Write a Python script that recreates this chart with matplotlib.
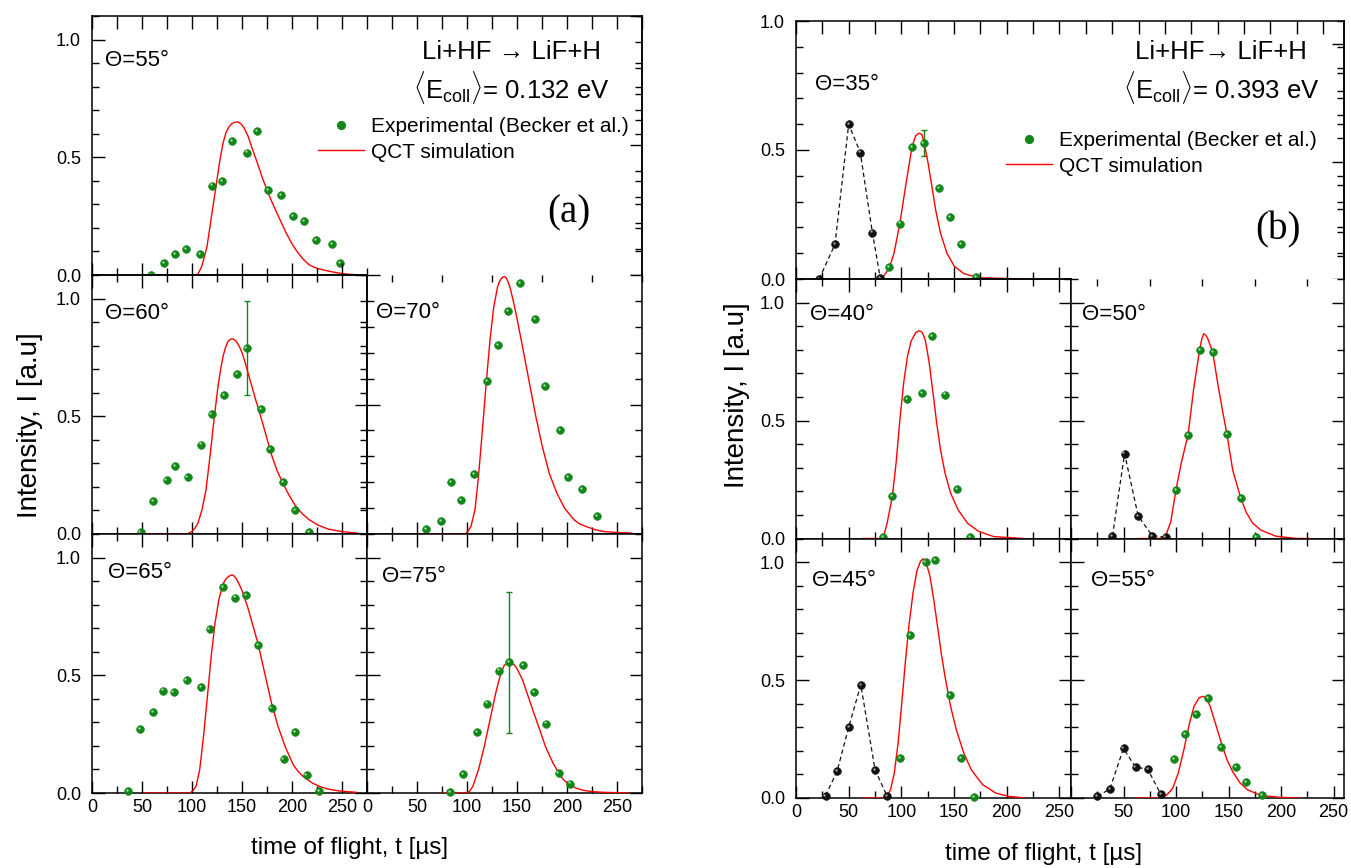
"""Li+HF -> LiF+H time-of-flight spectra, experiment vs QCT, two collision energies."""
import numpy as np
import matplotlib
matplotlib.use("Agg")
import matplotlib.pyplot as plt
from matplotlib.ticker import MultipleLocator, FormatStrFormatter, NullFormatter, FuncFormatter
from matplotlib.lines import Line2D
from matplotlib.transforms import offset_copy

plt.rcParams["font.family"] = ["Liberation Sans", "DejaVu Sans"]
plt.rcParams["mathtext.fontset"] = "custom"
plt.rcParams["mathtext.rm"] = "Liberation Sans"
plt.rcParams["mathtext.it"] = "Liberation Sans:italic"
plt.rcParams["axes.linewidth"] = 1.1

GREEN, GREEN_HI = "#13861a", "#9be09b"
BLACK, BLACK_HI = "#111111", "#a0a0a0"

# ---------------- (a) <Ecoll> = 0.132 eV ----------------
a55_t = [59, 72, 83, 94, 108, 120, 130, 140, 155, 165, 176, 189, 201, 212, 224, 240, 248]
a55_I = [0.00, 0.05, 0.09, 0.11, 0.09, 0.38, 0.40, 0.57, 0.52, 0.61, 0.36, 0.34, 0.25, 0.23, 0.15, 0.13, 0.05]
a55_sim_t = [62, 104, 106, 110, 115, 119, 122, 125, 128, 131, 134, 137, 140, 143, 146, 149, 152, 156, 160,
             165, 171, 177, 182, 188, 194, 200, 205, 211, 217, 222, 228, 236, 243, 252, 264]
a55_sim_I = [0, 0, 0.004, 0.04, 0.12, 0.235, 0.32, 0.405, 0.49, 0.56, 0.605, 0.63, 0.643, 0.649, 0.65, 0.642,
             0.625, 0.59, 0.54, 0.48, 0.405, 0.34, 0.29, 0.235, 0.18, 0.132, 0.10, 0.068, 0.044, 0.033, 0.025,
             0.017, 0.011, 0.005, 0.001]

a60_t = [48.5, 61, 74.5, 83, 95.5, 109, 119.5, 132, 145, 154.5, 169, 178, 191, 203, 217]
a60_I = [0.01, 0.14, 0.23, 0.29, 0.24, 0.38, 0.51, 0.59, 0.68, 0.79, 0.53, 0.36, 0.22, 0.10, 0.01]
a60_err_t, a60_err_I, a60_err = [154.5], [0.79], [0.20]
a60_sim_t = [55, 95, 100, 103, 106, 110, 114, 118, 122, 126, 128.5, 131, 133.5, 136, 138.5, 141, 144, 147,
             150, 153, 156, 160, 164, 168, 172, 176, 180, 185, 191, 197, 203, 210, 217, 226, 236, 250, 265]
a60_sim_I = [0, 0, 0.011, 0.025, 0.047, 0.103, 0.188, 0.33, 0.485, 0.627, 0.695, 0.754, 0.792, 0.818, 0.827,
             0.829, 0.82, 0.80, 0.77, 0.73, 0.685, 0.625, 0.565, 0.51, 0.45, 0.39, 0.33, 0.27, 0.215, 0.165,
             0.122, 0.087, 0.061, 0.038, 0.021, 0.01, 0.004]

a70_t = [59, 74, 84, 94, 107, 120, 131, 141, 153, 168, 178, 193, 201, 215, 230]
a70_I = [0.02, 0.05, 0.20, 0.13, 0.23, 0.59, 0.73, 0.86, 0.97, 0.83, 0.57, 0.40, 0.22, 0.175, 0.07]
a70_sim_t = [55, 98, 101, 104, 108, 111.5, 115.4, 119.2, 123, 126.8, 130.6, 132.5, 134.5, 136, 137.5, 139, 141,
             143.5, 146, 148.8, 151.6, 157.4, 163.1, 168.8, 175.3, 182.2, 189.8, 197.5, 207, 213, 220.4, 228,
             235.7, 248, 264]
a70_sim_I = [0, 0, 0.01, 0.03, 0.094, 0.222, 0.402, 0.582, 0.749, 0.878, 0.955, 0.975, 0.987, 0.992, 0.994,
             0.99, 0.974, 0.945, 0.904, 0.855, 0.801, 0.685, 0.569, 0.454, 0.338, 0.235, 0.158, 0.10, 0.055,
             0.038, 0.027, 0.017, 0.01, 0.006, 0.004]

a65_t = [36, 48, 61, 71, 81.5, 94.5, 109, 117.5, 131, 143, 154, 166, 179.5, 191.5, 203, 214.5, 227]
a65_I = [0.01, 0.27, 0.345, 0.435, 0.43, 0.48, 0.45, 0.695, 0.875, 0.83, 0.84, 0.63, 0.36, 0.145, 0.26, 0.075, 0.01]
a65_sim_t = [52, 98, 101, 104, 107.7, 111.5, 115.4, 119.2, 123, 126.8, 130.6, 133.5, 136.4, 138.3, 140.2, 142,
             144, 146.8, 149.7, 155.5, 161.2, 166.2, 172.7, 179.5, 186, 193.7, 201.3, 206, 210.9, 220.4, 228,
             235.7, 248, 264]
a65_sim_I = [0, 0, 0.01, 0.028, 0.099, 0.24, 0.41, 0.58, 0.721, 0.82, 0.884, 0.907, 0.919, 0.924, 0.926, 0.922,
             0.912, 0.89, 0.863, 0.792, 0.707, 0.631, 0.509, 0.382, 0.283, 0.191, 0.12, 0.092, 0.071, 0.042,
             0.027, 0.017, 0.008, 0.003]

a75_t = [83, 96, 110, 120, 132, 142, 156, 167, 179, 191.5, 203]
a75_I = [0.005, 0.08, 0.26, 0.38, 0.52, 0.555, 0.545, 0.43, 0.295, 0.085, 0.04]
a75_err_t, a75_err_I, a75_err = [142], [0.555], [0.30]
a75_sim_t = [75, 100, 103, 105.8, 111.5, 117.3, 123, 128.7, 131.5, 134.5, 137.3, 140.2, 142, 144, 147, 149.7,
             155.5, 161.2, 166.9, 172.7, 178.4, 186, 193.7, 198, 203.2, 209, 216.6, 225, 235.7, 262]
a75_sim_I = [0, 0, 0.01, 0.028, 0.099, 0.198, 0.311, 0.424, 0.472, 0.516, 0.542, 0.552, 0.555, 0.554, 0.545,
             0.53, 0.481, 0.41, 0.339, 0.269, 0.198, 0.127, 0.071, 0.05, 0.035, 0.021, 0.011, 0.006, 0.003, 0]

# ---------------- (b) <Ecoll> = 0.393 eV ----------------
b35_fast_t = [22, 37, 50, 61, 72.5, 80]
b35_fast_I = [0, 0.135, 0.60, 0.49, 0.18, 0.003]
b35_t = [88.5, 98.5, 110, 121, 136, 146, 157, 171]
b35_I = [0.045, 0.215, 0.51, 0.527, 0.352, 0.24, 0.137, 0.008]
b35_err_t, b35_err_I, b35_err = [121], [0.527], [0.05]
b35_sim_t = [63, 80, 84.4, 88.7, 93, 98.6, 104, 110, 113.5, 116.5, 119.5, 122, 125.4, 129, 132.5, 137.1,
             143.2, 150.3, 159.2, 173.4, 216]
b35_sim_I = [0, 0, 0.017, 0.045, 0.10, 0.216, 0.36, 0.51, 0.555, 0.565, 0.56, 0.52, 0.448, 0.358, 0.268, 0.178,
             0.10, 0.049, 0.021, 0.005, 0]

b40_t = [83, 91.5, 105, 119.5, 129, 141.5, 153, 165]
b40_I = [0.008, 0.18, 0.59, 0.615, 0.86, 0.61, 0.21, 0.008]
b40_sim_t = [63, 80, 83, 86.5, 91.5, 95, 98.6, 102.2, 105.8, 109.3, 113.6, 116.5, 119, 121, 122.9, 126.4, 130,
             133.5, 137.1, 141.4, 146.7, 153.8, 162.7, 173.4, 187.7, 216]
b40_sim_I = [0, 0, 0.008, 0.065, 0.181, 0.32, 0.504, 0.66, 0.773, 0.837, 0.873, 0.88, 0.877, 0.862, 0.837,
             0.745, 0.618, 0.49, 0.377, 0.278, 0.193, 0.122, 0.065, 0.03, 0.008, 0]

b50_fast_t = [39.5, 51, 64, 77.5, 90]
b50_fast_I = [0.01, 0.36, 0.095, 0.011, 0.007]
b50_t = [100, 111.5, 122.5, 135, 148.5, 161.7, 176]
b50_I = [0.207, 0.44, 0.80, 0.79, 0.442, 0.171, 0.008]
b50_sim_t = [65, 84, 90, 95, 100, 105, 111.5, 117, 122.5, 124.5, 126.4, 128.3, 130, 135, 140, 144, 148.5, 154,
             161.7, 167, 173, 181, 195, 215, 227]
b50_sim_I = [0, 0, 0.01, 0.07, 0.207, 0.32, 0.44, 0.64, 0.80, 0.845, 0.868, 0.862, 0.85, 0.79, 0.65, 0.55, 0.442,
             0.29, 0.171, 0.11, 0.065, 0.035, 0.01, 0, 0]

b45_fast_t = [28, 39, 50, 61.5, 75, 86.5]
b45_fast_I = [0.01, 0.113, 0.30, 0.48, 0.12, 0.007]
b45_t = [99, 108, 123, 132, 146.5, 157, 169]
b45_I = [0.17, 0.69, 1.00, 1.01, 0.435, 0.168, 0.003]
b45_sim_t = [63, 85.5, 89.7, 93.3, 96.9, 100.4, 104, 107.5, 111.1, 114.7, 118.2, 120.7, 123.6, 127.1, 130.7,
             134.3, 137.8, 141.4, 146.7, 152.1, 159.2, 166.3, 177, 189.5, 201.9, 218]
b45_sim_I = [0, 0, 0.035, 0.106, 0.233, 0.403, 0.587, 0.743, 0.87, 0.962, 1.004, 1.014, 0.997, 0.941, 0.842,
             0.728, 0.615, 0.516, 0.389, 0.29, 0.191, 0.12, 0.057, 0.021, 0.007, 0]

b55_fast_t = [25, 37, 50, 61.5, 73, 85.5]
b55_fast_I = [0.007, 0.038, 0.21, 0.13, 0.123, 0.016]
b55_t = [98.5, 108.5, 119.5, 130.5, 143, 157, 166.5, 182]
b55_I = [0.165, 0.272, 0.356, 0.424, 0.216, 0.132, 0.069, 0.011]
b55_sim_t = [63, 86.2, 91.5, 96.9, 102.2, 107.5, 112.9, 117.2, 121.8, 125.4, 129, 132.5, 137.9, 143.2, 148.5,
             153.8, 161, 168.1, 180.6, 198.4, 218]
b55_sim_I = [0, 0, 0.014, 0.042, 0.106, 0.205, 0.318, 0.389, 0.424, 0.431, 0.424, 0.389, 0.311, 0.233, 0.163,
             0.113, 0.064, 0.035, 0.011, 0.003, 0]

W, H = 1351, 868
fig = plt.figure(figsize=(W / 100, H / 100), dpi=100)


def box(x0, y0, x1, y1):
    # pixel box (top-left origin) -> figure fraction rect
    return [x0 / W, 1 - y1 / H, (x1 - x0) / W, (y1 - y0) / H]


def frame(ax, xmax, ymax, xlab=False, ylab=False):
    ax.set_xlim(0, xmax)
    ax.set_ylim(0, ymax)
    ax.xaxis.set_major_locator(MultipleLocator(50))
    ax.xaxis.set_minor_locator(MultipleLocator(25))
    ax.yaxis.set_major_locator(MultipleLocator(0.5))
    ax.yaxis.set_minor_locator(MultipleLocator(0.1))
    ax.yaxis.set_major_formatter(FormatStrFormatter("%.1f"))
    ax.tick_params(which="both", direction="in", top=True, right=True, width=1.0, labelsize=13, pad=4)
    ax.tick_params(which="major", length=9)
    ax.tick_params(which="minor", length=5)
    ax.tick_params(axis="y", pad=8)
    ax.tick_params(labelbottom=xlab, labelleft=ylab)


def seam_top(ax):
    # ticks of the panel above poke down onto this frame edge
    sec = ax.secondary_xaxis("top")
    sec.xaxis.set_major_locator(MultipleLocator(50))
    sec.xaxis.set_minor_locator(MultipleLocator(25))
    sec.xaxis.set_major_formatter(NullFormatter())
    sec.tick_params(which="both", direction="out", width=1.0)
    sec.tick_params(which="major", length=9)
    sec.tick_params(which="minor", length=5)


def right_scale(ax, k):
    sec = ax.secondary_yaxis("right", functions=(lambda y: y * k, lambda r: r / k))
    sec.yaxis.set_major_locator(MultipleLocator(0.5))
    sec.yaxis.set_minor_locator(MultipleLocator(0.1))
    sec.yaxis.set_major_formatter(NullFormatter())
    sec.tick_params(which="both", direction="in", width=1.0)
    sec.tick_params(which="major", length=9)
    sec.tick_params(which="minor", length=5)
    return sec


def left_out(ax):
    sec = ax.secondary_yaxis("left")
    sec.yaxis.set_major_locator(MultipleLocator(0.5))
    sec.yaxis.set_minor_locator(MultipleLocator(0.1))
    sec.yaxis.set_major_formatter(NullFormatter())
    sec.tick_params(which="both", direction="out", width=1.0)
    sec.tick_params(which="major", length=9)
    sec.tick_params(which="minor", length=5)


def balls(ax, t, I, color, hi):
    ax.plot(t, I, "o", ms=5.6, color=color, mec=color, mew=0.4, zorder=4, clip_on=False)
    tr = offset_copy(ax.transData, fig=fig, x=-0.8, y=0.8, units="points")
    ax.plot(t, I, "o", ms=1.7, color=hi, mec="none", transform=tr, zorder=5, clip_on=False)


def sim(ax, t, I):
    ax.plot(t, I, "-", color="red", lw=1.0, zorder=3)


def fast(ax, t, I):
    ax.plot(t, I, "--", color=BLACK, lw=0.9, dashes=(3.5, 2.5), zorder=3)
    balls(ax, t, I, BLACK, BLACK_HI)


def errs(ax, t, I, e):
    ax.errorbar(t, I, yerr=e, fmt="none", ecolor=GREEN, elinewidth=1.0, capsize=2.2, capthick=1.0, zorder=3)


def top_panel(rect, xmax, ymax, k):
    ax = fig.add_axes(rect)
    frame(ax, xmax, ymax, ylab=True)
    ax.xaxis.set_major_locator(MultipleLocator(25))
    ax.xaxis.set_minor_locator(MultipleLocator(25))
    ax.tick_params(bottom=False, right=False)
    ax.spines["bottom"].set_visible(False)
    right_scale(ax, k)
    return ax


def theta(ax_x, ax_y, s):
    fig.text(ax_x / W, 1 - ax_y / H, s, fontsize=16, ha="left", va="center")


# ---------------- panel (a) ----------------
ax = top_panel(box(92, 16, 642, 275), 550, 1.1, 1 / 1.1)
balls(ax, a55_t, a55_I, GREEN, GREEN_HI)
sim(ax, a55_sim_t, a55_sim_I)
theta(105, 60, "Θ=55°")

ax = fig.add_axes(box(92, 275, 367, 534))
frame(ax, 275, 1.1, ylab=True)
ax.tick_params(right=False)
seam_top(ax)
errs(ax, a60_err_t, a60_err_I, a60_err)
balls(ax, a60_t, a60_I, GREEN, GREEN_HI)
sim(ax, a60_sim_t, a60_sim_I)
theta(105, 314, "Θ=60°")

ax = fig.add_axes(box(367, 275, 642, 534))
frame(ax, 275, 1.0)
ax.tick_params(top=False)
ax.spines["top"].set_visible(False)
left_out(ax)
balls(ax, a70_t, a70_I, GREEN, GREEN_HI)
sim(ax, a70_sim_t, a70_sim_I)
theta(376, 313, "Θ=70°")

ax = fig.add_axes(box(92, 534, 367, 793))
frame(ax, 275, 1.1, xlab=True, ylab=True)
balls(ax, a65_t, a65_I, GREEN, GREEN_HI)
sim(ax, a65_sim_t, a65_sim_I)
theta(108, 572, "Θ=65°")

ax = fig.add_axes(box(367, 534, 642, 793))
frame(ax, 275, 1.1, xlab=True)
errs(ax, a75_err_t, a75_err_I, a75_err)
balls(ax, a75_t, a75_I, GREEN, GREEN_HI)
sim(ax, a75_sim_t, a75_sim_I)
theta(382, 577, "Θ=75°")

# ---------------- panel (b) ----------------
ax = top_panel(box(796, 21, 1344, 279), 520, 1.0, 1.1)
fast(ax, b35_fast_t, b35_fast_I)
errs(ax, b35_err_t, b35_err_I, b35_err)
balls(ax, b35_t, b35_I, GREEN, GREEN_HI)
sim(ax, b35_sim_t, b35_sim_I)
theta(815, 85, "Θ=35°")

ax = fig.add_axes(box(796, 279, 1071, 538.5))
frame(ax, 261, 1.1, ylab=True)
seam_top(ax)
balls(ax, b40_t, b40_I, GREEN, GREEN_HI)
sim(ax, b40_sim_t, b40_sim_I)
theta(810, 315, "Θ=40°")

ax = fig.add_axes(box(1071, 279, 1344, 538.5))
frame(ax, 260, 1.1)
ax.tick_params(top=False)
ax.spines["top"].set_visible(False)
fast(ax, b50_fast_t, b50_fast_I)
balls(ax, b50_t, b50_I, GREEN, GREEN_HI)
sim(ax, b50_sim_t, b50_sim_I)
theta(1082, 315, "Θ=50°")

ax = fig.add_axes(box(796, 538.5, 1071, 798))
frame(ax, 261, 1.1, xlab=True, ylab=True)
fast(ax, b45_fast_t, b45_fast_I)
balls(ax, b45_t, b45_I, GREEN, GREEN_HI)
sim(ax, b45_sim_t, b45_sim_I)
theta(812, 580, "Θ=45°")

ax = fig.add_axes(box(1071, 538.5, 1344, 798))
frame(ax, 260, 1.1, xlab=True)
# the left neighbour's "250" already sits on the shared edge
ax.xaxis.set_major_formatter(FuncFormatter(lambda v, p: "" if v == 0 else f"{v:.0f}"))
fast(ax, b55_fast_t, b55_fast_I)
balls(ax, b55_t, b55_I, GREEN, GREEN_HI)
sim(ax, b55_sim_t, b55_sim_I)
theta(1091, 580, "Θ=55°")

# ---------------- annotations ----------------
for cx, arrow, energy in [(511, "Li+HF → LiF+H", "0.132"), (1221, "Li+HF→ LiF+H", "0.393")]:
    fig.text(cx / W, 1 - 52 / H, arrow, fontsize=18.5, ha="center", va="center")
    fig.text(cx / W, 1 - 88 / H, r"$\langle$E$_{\rm coll}$$\rangle$= " + energy + " eV",
             fontsize=18.5, ha="center", va="center")

fig.text(569 / W, 1 - 213 / H, "(a)", fontsize=28, family="Liberation Serif", ha="center", va="center")
fig.text(1278 / W, 1 - 230 / H, "(b)", fontsize=28, family="Liberation Serif", ha="center", va="center")

handles = [Line2D([], [], ls="none", marker="o", ms=5.6, color=GREEN),
           Line2D([], [], color="red", lw=1.0)]
labels = ["Experimental (Becker et al.)", "QCT simulation"]
for x0, ytop in [(318, 117), (1006, 131)]:
    fig.legend(handles, labels, loc="upper left", bbox_to_anchor=(x0 / W, 1 - ytop / H), frameon=False,
               fontsize=15, handlelength=2.2, handletextpad=0.35, labelspacing=0.32, borderpad=0,
               borderaxespad=0)

fig.text(30 / W, 1 - 425 / H, "Intensity, I [a.u]", fontsize=20, rotation=90, ha="center", va="center")
fig.text(737 / W, 1 - 395 / H, "Intensity, I [a.u]", fontsize=20, rotation=90, ha="center", va="center")
fig.text(350 / W, 1 - 848 / H, "time of flight, t [µs]", fontsize=17.5, ha="center", va="center")
fig.text(1044 / W, 1 - 854 / H, "time of flight, t [µs]", fontsize=17.5, ha="center", va="center")

fig.savefig("out.png", dpi=100)
